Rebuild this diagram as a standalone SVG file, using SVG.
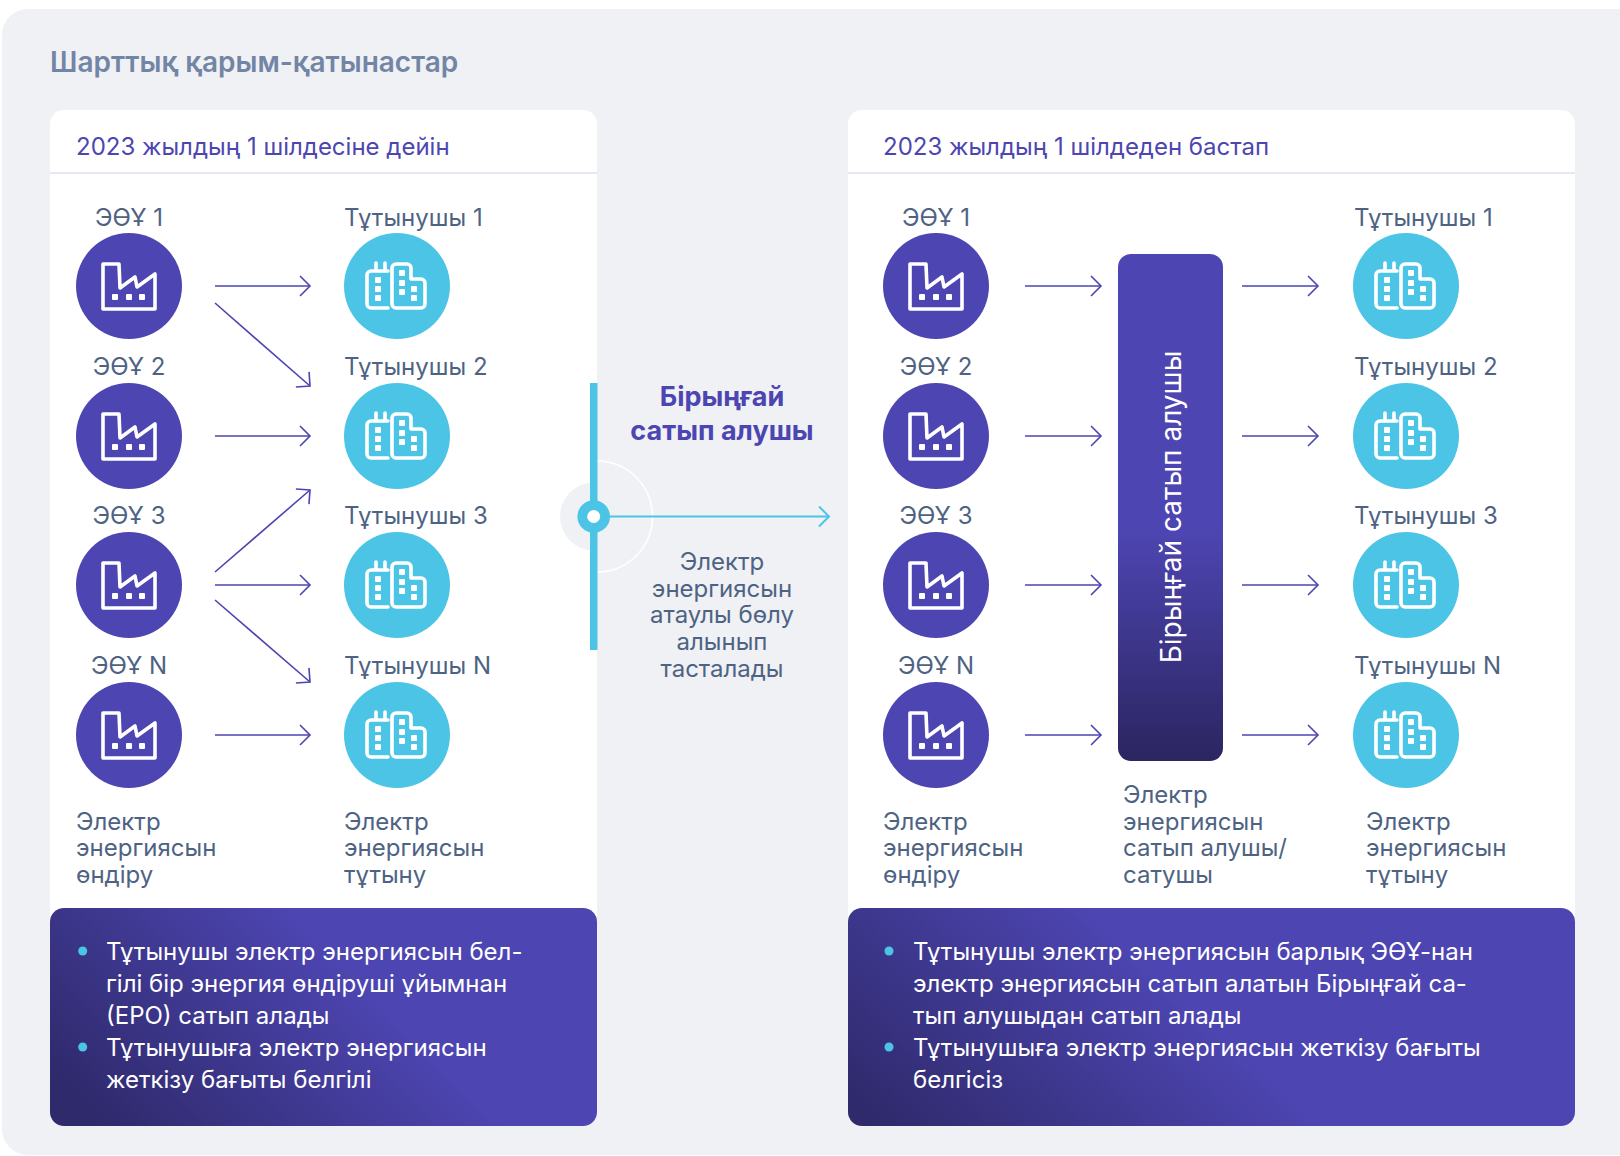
<svg xmlns="http://www.w3.org/2000/svg" xmlns:xlink="http://www.w3.org/1999/xlink" width="1620" height="1156" viewBox="0 0 1620 1156">
<style>
text{font-family:"Inter","Noto Sans","DejaVu Sans",sans-serif}
.l{font-size:24px;fill:#4e6383}
.m{text-anchor:middle}
.h{font-size:24px;fill:#4d45b1}
.w{font-size:24px;fill:#fff}
.c{fill:none;stroke:#4d45b1;stroke-width:1.6;marker-end:url(#a)}
.p{fill:#4d45b1}.q{fill:#4cc4e6}
.i{fill:none;stroke:#fff;stroke-width:3.6;stroke-linejoin:round;stroke-linecap:round}
.d{fill:#fff}
</style>
<defs>
<marker id="a" markerUnits="userSpaceOnUse" markerWidth="24" markerHeight="24" refX="11" refY="11" orient="auto"><path d="M1,1 L11,11 L1,21" fill="none" stroke="#4d45b1" stroke-width="1.6"/></marker>
<marker id="b" markerUnits="userSpaceOnUse" markerWidth="24" markerHeight="24" refX="11" refY="11" orient="auto"><path d="M1,1 L11,11 L1,21" fill="none" stroke="#4cc4e6" stroke-width="2"/></marker>
<linearGradient id="g1" gradientUnits="userSpaceOnUse" x1="130" y1="1150" x2="330" y2="950"><stop offset="0" stop-color="#2f2a6c"/><stop offset="1" stop-color="#4d45b1"/></linearGradient>
<linearGradient id="g2" gradientUnits="userSpaceOnUse" x1="930" y1="1170" x2="1130" y2="950"><stop offset="0" stop-color="#2f2a6c"/><stop offset="1" stop-color="#4d45b1"/></linearGradient>
<linearGradient id="g3" x1="0" y1="0" x2="0" y2="1"><stop offset="0.55" stop-color="#4d45b1"/><stop offset="1" stop-color="#2b2560"/></linearGradient>
<g id="f"><circle r="53" class="p"/><path class="i" d="M-26,-22 H-10 L-9,2 L6,-9 L8,1 L26,-12 V23 H-26 Z"/><rect class="d" x="-17" y="8" width="6" height="6" rx="1"/><rect class="d" x="-3" y="8" width="6" height="6" rx="1"/><rect class="d" x="10" y="8" width="6" height="6" rx="1"/></g>
<g id="b1"><circle r="53" class="q"/><path class="i" d="M-9,-15 H-26 a4,4 0 0 0 -4,4 V18 a4,4 0 0 0 4,4 H-9 M-21,-23 V-15 M-12,-23 V-15"/><path class="i" d="M-1,-22 H10 a4,4 0 0 1 4,4 V-7 H24 a4,4 0 0 1 4,4 V18 a4,4 0 0 1 -4,4 H-1 a4,4 0 0 1 -4,-4 V-18 a4,4 0 0 1 4,-4 Z"/><rect class="d" x="-22" y="-9" width="6" height="6" rx="1"/><rect class="d" x="-22" y="0" width="6" height="6" rx="1"/><rect class="d" x="-22" y="9" width="6" height="6" rx="1"/><rect class="d" x="2" y="-16" width="6" height="6" rx="1"/><rect class="d" x="2" y="-6" width="6" height="6" rx="1"/><rect class="d" x="2" y="3" width="6" height="6" rx="1"/><rect class="d" x="14" y="0" width="6" height="6" rx="1"/><rect class="d" x="14" y="9" width="6" height="6" rx="1"/></g>
</defs>
<rect x="2" y="9" width="1640" height="1146" rx="26" fill="#eff1f5"/>
<text x="50" y="72" font-size="28" font-weight="600" fill="#7385a5">Шарттық қарым-қатынастар</text>

<g id="card-left"><rect x="50" y="110" width="547" height="1016" rx="14" fill="#fff"/><path d="M50,173 H597" stroke="#e8e8f4" stroke-width="2"/><text class="h" x="76" y="155">2023 жылдың 1 шілдесіне дейін</text></g>
<g id="card-right"><rect x="848" y="110" width="727" height="1016" rx="14" fill="#fff"/><path d="M848,173 H1575" stroke="#e8e8f4" stroke-width="2"/><text class="h" x="883" y="155">2023 жылдың 1 шілдеден бастап</text></g>

<g id="divider">
<circle cx="594" cy="516.5" r="34" fill="#eff1f5"/>
<path d="M597,461 A55.5,55.5 0 0 1 597,572" fill="none" stroke="#fff" stroke-width="1.6"/>
<rect x="590" y="383" width="7.5" height="267" fill="#4cc4e6"/>
<circle cx="593.7" cy="516.5" r="16.3" fill="#4cc4e6"/><circle cx="593.7" cy="516.5" r="6.5" fill="#fff"/>
<text class="m" x="722" y="406" font-size="27" font-weight="700" fill="#4d45b1">Бірыңғай</text>
<text class="m" x="722" y="440" font-size="27" font-weight="700" fill="#4d45b1">сатып алушы</text>
<text class="l m" x="722" y="570">Электр</text><text class="l m" x="722" y="597">энергиясын</text><text class="l m" x="722" y="623">атаулы бөлу</text><text class="l m" x="722" y="650">алынып</text><text class="l m" x="722" y="677">тасталады</text>
</g>

<g id="connectors">
<path class="c" d="M215,286 H310"/><path class="c" d="M215,303 L310,386"/><path class="c" d="M215,436 H310"/><path class="c" d="M215,572 L310,490"/><path class="c" d="M215,585 H310"/><path class="c" d="M215,600 L310,682"/><path class="c" d="M215,735 H310"/>
<path d="M610,516.5 H829" fill="none" stroke="#4cc4e6" stroke-width="2" marker-end="url(#b)"/>
<path class="c" d="M1025,286 H1101"/><path class="c" d="M1025,436 H1101"/><path class="c" d="M1025,585 H1101"/><path class="c" d="M1025,735 H1101"/>
<path class="c" d="M1242,286 H1318"/><path class="c" d="M1242,436 H1318"/><path class="c" d="M1242,585 H1318"/><path class="c" d="M1242,735 H1318"/>
</g>

<g id="l-gen-1"><text class="l m" x="129" y="226">ЭӨҰ 1</text><use href="#f" x="129" y="286"/></g>
<g id="l-gen-2"><text class="l m" x="129" y="375">ЭӨҰ 2</text><use href="#f" x="129" y="436"/></g>
<g id="l-gen-3"><text class="l m" x="129" y="524">ЭӨҰ 3</text><use href="#f" x="129" y="585"/></g>
<g id="l-gen-n"><text class="l m" x="129" y="674">ЭӨҰ N</text><use href="#f" x="129" y="735"/></g>
<g id="l-con-1"><text class="l" x="344" y="226">Тұтынушы 1</text><use href="#b1" x="397" y="286"/></g>
<g id="l-con-2"><text class="l" x="344" y="375">Тұтынушы 2</text><use href="#b1" x="397" y="436"/></g>
<g id="l-con-3"><text class="l" x="344" y="524">Тұтынушы 3</text><use href="#b1" x="397" y="585"/></g>
<g id="l-con-n"><text class="l" x="344" y="674">Тұтынушы N</text><use href="#b1" x="397" y="735"/></g>
<g id="r-gen-1"><text class="l m" x="936" y="226">ЭӨҰ 1</text><use href="#f" x="936" y="286"/></g>
<g id="r-gen-2"><text class="l m" x="936" y="375">ЭӨҰ 2</text><use href="#f" x="936" y="436"/></g>
<g id="r-gen-3"><text class="l m" x="936" y="524">ЭӨҰ 3</text><use href="#f" x="936" y="585"/></g>
<g id="r-gen-n"><text class="l m" x="936" y="674">ЭӨҰ N</text><use href="#f" x="936" y="735"/></g>
<g id="r-con-1"><text class="l" x="1354" y="226">Тұтынушы 1</text><use href="#b1" x="1406" y="286"/></g>
<g id="r-con-2"><text class="l" x="1354" y="375">Тұтынушы 2</text><use href="#b1" x="1406" y="436"/></g>
<g id="r-con-3"><text class="l" x="1354" y="524">Тұтынушы 3</text><use href="#b1" x="1406" y="585"/></g>
<g id="r-con-n"><text class="l" x="1354" y="674">Тұтынушы N</text><use href="#b1" x="1406" y="735"/></g>

<g id="single-buyer"><rect x="1118" y="254" width="105" height="507" rx="13" fill="url(#g3)"/><text class="m" transform="translate(1181,507) rotate(-90)" font-size="28" fill="#fff">Бірыңғай сатып алушы</text></g>

<g id="captions">
<text class="l" x="76" y="830">Электр</text><text class="l" x="76" y="856">энергиясын</text><text class="l" x="76" y="883">өндіру</text>
<text class="l" x="344" y="830">Электр</text><text class="l" x="344" y="856">энергиясын</text><text class="l" x="344" y="883">тұтыну</text>
<text class="l" x="883" y="830">Электр</text><text class="l" x="883" y="856">энергиясын</text><text class="l" x="883" y="883">өндіру</text>
<text class="l" x="1123" y="803">Электр</text><text class="l" x="1123" y="830">энергиясын</text><text class="l" x="1123" y="856">сатып алушы/</text><text class="l" x="1123" y="883">сатушы</text>
<text class="l" x="1366" y="830">Электр</text><text class="l" x="1366" y="856">энергиясын</text><text class="l" x="1366" y="883">тұтыну</text>
</g>

<g id="note-left"><rect x="50" y="908" width="547" height="218" rx="14" fill="url(#g1)"/>
<circle cx="82.7" cy="951" r="4.5" class="q"/><circle cx="82.7" cy="1047" r="4.5" class="q"/>
<text class="w" x="106" y="960">Тұтынушы электр энергиясын бел-</text><text class="w" x="106" y="992">гілі бір энергия өндіруші ұйымнан</text><text class="w" x="106" y="1024">(ЕРО) сатып алады</text><text class="w" x="106" y="1056">Тұтынушыға электр энергиясын</text><text class="w" x="106" y="1088">жеткізу бағыты белгілі</text></g>
<g id="note-right"><rect x="848" y="908" width="727" height="218" rx="14" fill="url(#g2)"/>
<circle cx="889" cy="951" r="4.5" class="q"/><circle cx="889" cy="1047" r="4.5" class="q"/>
<text class="w" x="913" y="960">Тұтынушы электр энергиясын барлық ЭӨҰ-нан</text><text class="w" x="913" y="992">электр энергиясын сатып алатын Бірыңғай са-</text><text class="w" x="913" y="1024">тып алушыдан сатып алады</text><text class="w" x="913" y="1056">Тұтынушыға электр энергиясын жеткізу бағыты</text><text class="w" x="913" y="1088">белгісіз</text></g>
</svg>
